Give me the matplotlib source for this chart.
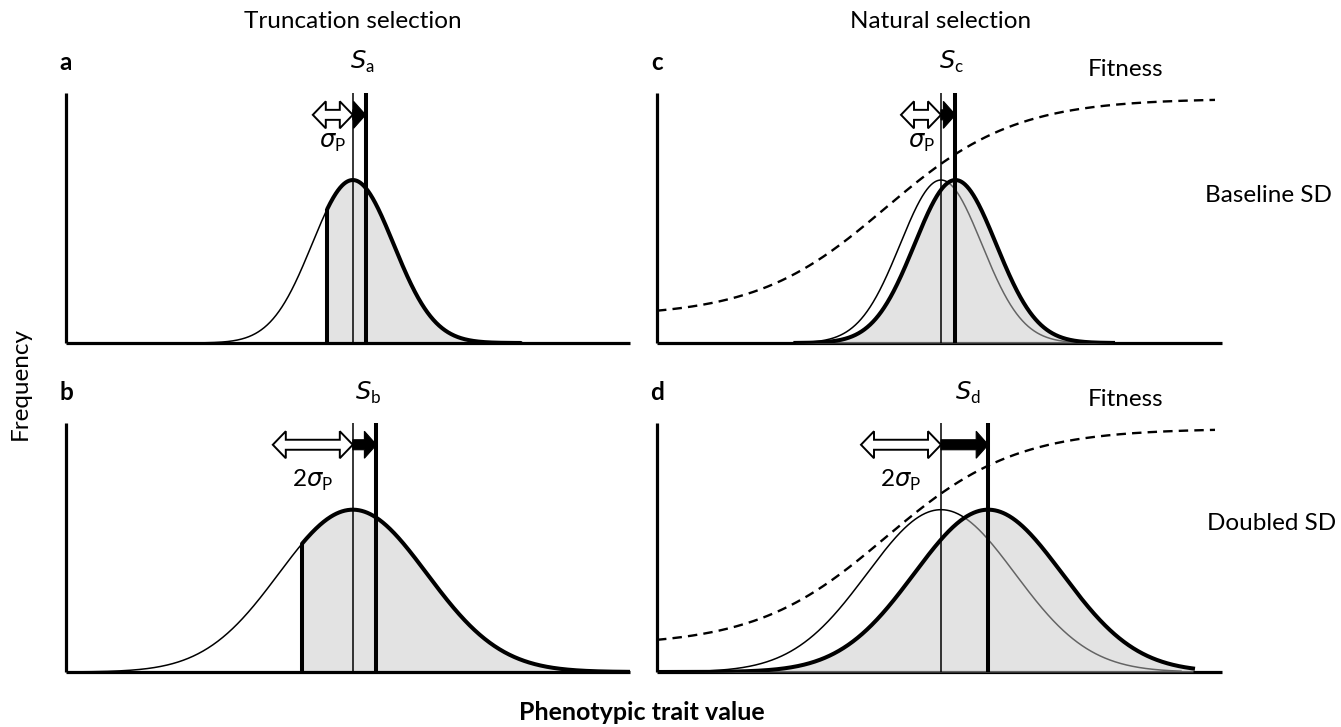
import numpy as np
import matplotlib
matplotlib.use("Agg")
import matplotlib.pyplot as plt
from matplotlib.patches import Polygon
from matplotlib import transforms

# ---------------- data (x in units of baseline phenotypic SD; curves scaled to peak 1) -------------
panel_ids = ["a", "b", "c", "d"]
column_titles = ["Truncation selection", "Natural selection"]
row_titles = ["Baseline SD", "Doubled SD"]
selection_type = ["truncation", "truncation", "natural", "natural"]
curve_sd = [1.02, 1.85, 1.02, 1.85]          # drawn width of the distributions
mean_before = [0.0, 0.0, 0.0, 0.0]
mean_after = [0.32, 0.59, 0.36, 1.18]
truncation_point = [-0.64, -1.27, None, None]
curve_before_range = [(-4.2, 4.2), (-7.17, 6.93), (-4.2, 4.2), (-7.1, 6.0)]
curve_after_range = [None, None, (-3.64, 4.3), (-7.1, 6.3)]
x_limits = [(-7.17, 6.93), (-7.17, 6.93), (-7.1, 7.025), (-7.1, 7.025)]
sigma_multiple = [1, 2, 1, 2]                # length of the white sigma_P arrow
sigma_texts = [r"$\sigma_{\mathrm{P}}$", r"2$\sigma_{\mathrm{P}}$",
               r"$\sigma_{\mathrm{P}}$", r"2$\sigma_{\mathrm{P}}$"]
# logistic fitness function (natural selection panels)
fitness_low, fitness_high, fitness_mid, fitness_slope = 0.16, 1.5, -1.38, 1.62
fitness_end = 6.85
y_top = 1.534

plt.rcParams["font.family"] = ["Lato", "DejaVu Sans"]
plt.rcParams["mathtext.fontset"] = "custom"
plt.rcParams["mathtext.rm"] = "Lato"
plt.rcParams["mathtext.it"] = "DejaVu Sans:italic"

W, H = 1341, 727
fig = plt.figure(figsize=(W / 100, H / 100), dpi=100)


def fx(px):
    return px / W


def fy(py):
    return 1 - py / H


# axes rectangles in pixels: left, top, right, bottom
rects = {"a": (66, 93, 630, 343), "b": (66, 423, 630, 672),
         "c": (657, 93, 1222, 343), "d": (657, 423, 1222, 672)}

THICK = 2.9
THIN = 1.1
FILL = "#c9c9c9"
FS = 17.5


def gauss(x, mu, sd):
    return np.exp(-0.5 * ((x - mu) / sd) ** 2)


def px_to_data(ax, pts):
    return ax.transData.inverted().transform(pts)


def double_arrow(ax, x0, x1, y, hl=13, hw=13.5, tw=5):
    (X0, Y), = ax.transData.transform([(x0, y)])
    (X1, _), = ax.transData.transform([(x1, y)])
    v = [(X0, Y), (X0 + hl, Y + hw), (X0 + hl, Y + tw), (X1 - hl, Y + tw),
         (X1 - hl, Y + hw), (X1, Y), (X1 - hl, Y - hw), (X1 - hl, Y - tw),
         (X0 + hl, Y - tw), (X0 + hl, Y - hw)]
    ax.add_patch(Polygon(px_to_data(ax, v), closed=True, fc="white", ec="black",
                         lw=1.4, zorder=8, clip_on=False, joinstyle="miter"))


def single_arrow(ax, x0, x1, y, hl=12, hw=13.5, tw=5):
    (X0, Y), = ax.transData.transform([(x0, y)])
    (X1, _), = ax.transData.transform([(x1, y)])
    hb = max(X1 - hl, X0)
    v = [(X0, Y + tw), (hb, Y + tw), (hb, Y + hw), (X1, Y), (hb, Y - hw),
         (hb, Y - tw), (X0, Y - tw)]
    ax.add_patch(Polygon(px_to_data(ax, v), closed=True, fc="black", ec="black",
                         lw=0.8, zorder=8, clip_on=False, joinstyle="miter"))


axes = {}
for i, pid in enumerate(panel_ids):
    l, t, r, b = rects[pid]
    ax = fig.add_axes([fx(l), fy(b), (r - l) / W, (b - t) / H])
    axes[pid] = ax
    ax.set_xlim(*x_limits[i])
    ax.set_ylim(0, y_top)
    for s in ("top", "right"):
        ax.spines[s].set_visible(False)
    for s in ("left", "bottom"):
        ax.spines[s].set_linewidth(2.3)
        ax.spines[s].set_color("black")
        ax.spines[s].set_capstyle("butt")
    ax.set_xticks([])
    ax.set_yticks([])
    ax.patch.set_alpha(0)

    sd = curve_sd[i]
    m0, m1 = mean_before[i], mean_after[i]
    lo, hi = curve_before_range[i]
    x = np.linspace(lo, hi, 800)
    y = gauss(x, m0, sd)

    if selection_type[i] == "truncation":
        tp = truncation_point[i]
        left = x <= tp
        right = x >= tp
        xr = np.concatenate([[tp], x[right]])
        yr = gauss(xr, m0, sd)
        ax.fill_between(xr, 0, yr, color=FILL, alpha=0.5, lw=0, zorder=2)
        ax.plot(np.append(x[left], tp), gauss(np.append(x[left], tp), m0, sd),
                color="black", lw=THIN, zorder=3)
        ax.plot(xr, yr, color="black", lw=THICK, zorder=4, solid_capstyle="round")
        ax.plot([tp, tp], [0, gauss(tp, m0, sd)], color="black", lw=THICK, zorder=5,
                solid_capstyle="butt")
    else:
        ax.plot(x, y, color="black", lw=THIN, zorder=2)
        lo2, hi2 = curve_after_range[i]
        x2 = np.linspace(lo2, hi2, 800)
        y2 = gauss(x2, m1, sd)
        ax.fill_between(x2, 0, y2, color=FILL, alpha=0.5, lw=0, zorder=3)
        ax.plot(x2, y2, color="black", lw=THICK, zorder=4)
        xf = np.linspace(x_limits[i][0], fitness_end, 400)
        yf = fitness_low + (fitness_high - fitness_low) / (
            1 + np.exp(-(xf - fitness_mid) / fitness_slope))
        ax.plot(xf, yf, color="black", lw=1.7, ls=(0, (4, 2.6)), zorder=6)

    ax.plot([m0, m0], [0, y_top], color="black", lw=THIN, zorder=6, solid_capstyle="butt")
    ax.plot([m1, m1], [0, y_top], color="black", lw=THICK, zorder=6, solid_capstyle="butt")

    ya = 1.40
    double_arrow(ax, m0 - sigma_multiple[i] * 1.0, m0, ya)
    single_arrow(ax, m0, m1, ya)

    sig_y = 1.225 if sigma_multiple[i] == 1 else 1.18
    ax.text(m0 - sigma_multiple[i] * 0.5, sig_y, sigma_texts[i], ha="center", va="center",
            fontsize=FS, zorder=9)

    # S label above the panel
    tr = transforms.blended_transform_factory(ax.transData, fig.transFigure)
    sy = 62 if pid in ("a", "c") else 393
    ax.text((m0 + m1) / 2 + 0.08, fy(sy), r"$S_{\mathrm{%s}}$" % pid, transform=tr,
            ha="center", va="center", fontsize=FS, clip_on=False)

    # panel letter
    fig.text(fx(l), fy(sy), pid, ha="center", va="center", fontsize=FS,
             fontweight="bold")

# column titles
fig.text(fx(353), fy(22), column_titles[0], ha="center", va="center", fontsize=FS)
fig.text(fx(941), fy(22), column_titles[1], ha="center", va="center", fontsize=FS)
# right-side labels
fig.text(fx(1126), fy(70), "Fitness", ha="center", va="center", fontsize=FS)
fig.text(fx(1126), fy(399), "Fitness", ha="center", va="center", fontsize=FS)
fig.text(fx(1205), fy(195), row_titles[0], ha="left", va="center", fontsize=FS)
fig.text(fx(1207), fy(523), row_titles[1], ha="left", va="center", fontsize=FS)
# axis titles
fig.text(fx(20), fy(383), "Frequency", ha="center", va="center", rotation=90,
         fontsize=FS)
fig.text(fx(642), fy(712), "Phenotypic trait value", ha="center", va="center",
         fontsize=18, fontweight="bold")

fig.savefig("out.png", dpi=100)
